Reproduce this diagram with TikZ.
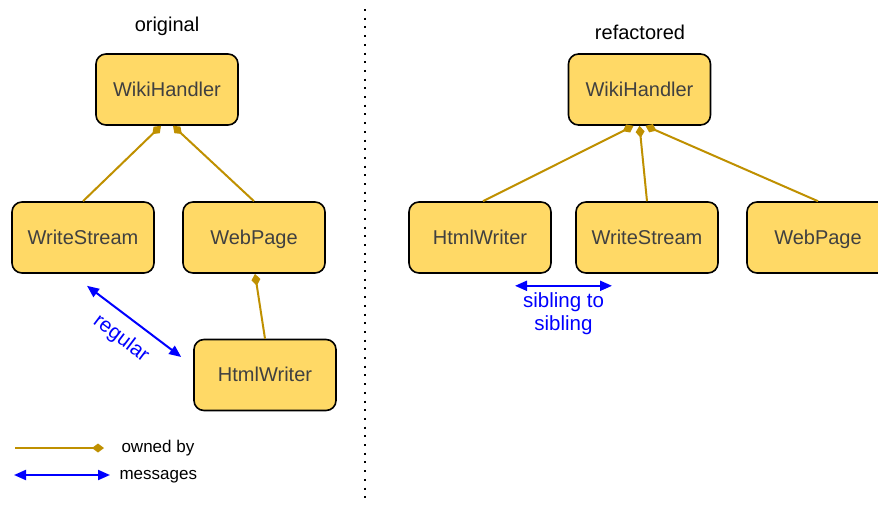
\documentclass[tikz,border=0pt]{standalone}
\usepackage{fontspec}
\setmainfont{Liberation Sans}
\usetikzlibrary{arrows.meta}
\definecolor{boxfill}{HTML}{FFD966}
\definecolor{ownline}{HTML}{BF9000}
\definecolor{msgblue}{HTML}{0000FF}
\definecolor{boxtext}{HTML}{404040}
\begin{document}
\begin{tikzpicture}[x=1pt,y=1pt,
  cls/.style={draw=black,line width=1.6pt,fill=boxfill,rounded corners=10pt,
    minimum width=142pt,minimum height=71pt,text=boxtext,
    text height=14pt,text depth=1pt,
    font=\fontsize{20}{24}\selectfont},
  title/.style={font=\fontsize{20}{24}\selectfont,text=black},
  owned/.style={draw=ownline,line width=2pt,
    {Diamond[width=9pt,length=12pt]}-},
  ownedlegend/.style={draw=ownline,line width=2pt,
    -{Diamond[width=9pt,length=12pt]}},
  msg/.style={draw=msgblue,line width=2pt,
    {Triangle[width=10pt,length=12pt]}-{Triangle[width=10pt,length=12pt]}},
  msglabel/.style={text=msgblue,font=\fontsize{20.5}{23}\selectfont},
  legendtext/.style={font=\fontsize{17}{20}\selectfont,text=black,anchor=west,
    text height=9pt,text depth=0pt}]
\useasboundingbox (0,0) rectangle (878,-506);

% dividing line between the two versions
\coordinate (divtop) at (365,-9);
\coordinate (divbot) at (365,-502);
\draw[line width=2pt,dash pattern=on 2pt off 6.7pt] (divtop) -- (divbot);

% ---- original design ----
\node[title] (torig) at (167,-26) {original};
\node[cls] (wh) at (167,-89.5) {WikiHandler};
\node[cls] (ws) at (83,-237.5) {WriteStream};
\node[cls] (wp) at (254,-237.5) {WebPage};
\node[cls] (hw) at (265,-375) {HtmlWriter};

\draw[owned] ([xshift=-6pt]wh.south) -- (ws.north);
\draw[owned] ([xshift=6pt]wh.south) -- (wp.north);
\draw[owned] ([xshift=1pt]wp.south) -- (hw.north);

\draw[msg] ([shift={(4pt,-12pt)}]ws.south) -- ([shift={(-12pt,18pt)}]hw.west)
  node[msglabel,midway,sloped,below=8pt] (lreg) {regular};

% legend
\coordinate (oba) at (15,-448);
\coordinate (obb) at (104,-448);
\draw[ownedlegend] (oba) -- (obb);
\node[legendtext] (lob) at (118,-448) {owned by};
\coordinate (msa) at (14,-475);
\coordinate (msb) at (110,-475);
\draw[msg] (msa) -- (msb);
\node[legendtext] (lmsg) at (116,-475) {messages};

% ---- refactored design ----
\node[title] (tref) at (640,-32) {refactored};
\node[cls] (wh2) at (639.5,-89.5) {WikiHandler};
\node[cls] (hw2) at (480,-237.5) {HtmlWriter};
\node[cls] (ws2) at (647,-237.5) {WriteStream};
\node[cls] (wp2) at (818,-237.5) {WebPage};

\draw[owned] ([xshift=-6pt]wh2.south) -- ([xshift=3pt]hw2.north);
\draw[owned] ([xshift=0pt]wh2.south) -- (ws2.north);
\draw[owned] ([xshift=6pt]wh2.south) -- (wp2.north);

\draw[msg] ([shift={(35pt,-12pt)}]hw2.south) -- ([shift={(-35pt,-12pt)}]ws2.south)
  node[msglabel,midway,below=3pt,align=center] (lsib) {sibling to\\sibling};
\end{tikzpicture}
\end{document}
